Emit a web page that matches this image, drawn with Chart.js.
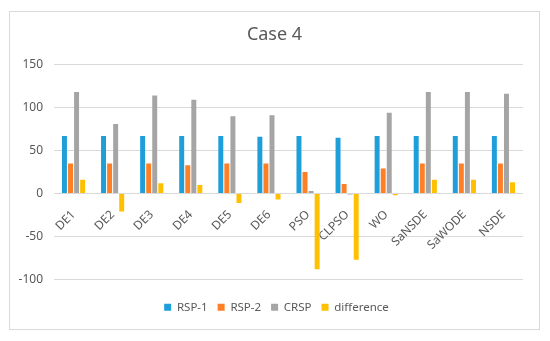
<!DOCTYPE html>
<html>
<head>
<meta charset="utf-8">
<script src="https://cdn.jsdelivr.net/npm/chart.js@4/dist/chart.umd.min.js"></script>
<style>
  html, body { margin: 0; padding: 0; background: #fff; }
  #marco {
    position: absolute; left: 9px; top: 11px;
    width: 529px; height: 317px;
    border: 1px solid #d9d9d9;
  }
</style>
</head>
<body>
<div id="marco"><canvas id="grafico" width="529" height="317"></canvas></div>
<script>
// Categorías y series
const categorias = ["DE1", "DE2", "DE3", "DE4", "DE5", "DE6", "PSO", "CLPSO", "WO", "SaNSDE", "SaWODE", "NSDE"];
const rsp1 = [67, 67, 67, 67, 67, 66, 67, 65, 67, 67, 67, 67];
const rsp2 = [35, 35, 35, 33, 35, 35, 25, 11, 29, 35, 35, 35];
const crsp = [118, 81, 114, 109, 90, 91, 3, -1, 94, 118, 118, 116];
const diferencia = [16, -21, 12, 10, -11, -7, -88, -77, -2, 16, 16, 13];

const nombres = ["RSP-1", "RSP-2", "CRSP", "difference"];
const colores = ["#1f9fda", "#ff7f27", "#a5a5a5", "#ffc000"];

const gris = "#595959";
const fuente = { family: "'Noto Sans', sans-serif", size: 12 };

const series = [rsp1, rsp2, crsp, diferencia];

// quita el relleno lateral que añaden las etiquetas giradas
function sinRelleno(s) {
  s.paddingLeft = 0;
  s.paddingRight = 0;
}

// mueve un poco el título y la leyenda hacia la derecha, como en el original
const moverBloques = {
  id: "moverBloques",
  afterLayout(chart) {
    const t = chart.titleBlock;
    if (t) { t.left += 8; t.right += 8; }
    const l = chart.legend;
    if (l) { l.left += 10; l.right += 10; }
  }
};

new Chart(document.getElementById("grafico").getContext("2d"), {
  type: "bar",
  data: {
    labels: categorias,
    datasets: series.map((s, i) => ({
      label: nombres[i],
      data: s,
      backgroundColor: colores[i],
      categoryPercentage: 0.62,
      barPercentage: 0.82
    }))
  },
  options: {
    responsive: false,
    animation: false,
    layout: { padding: { left: 0, right: 16, top: 4, bottom: 6 } },
    plugins: {
      title: {
        display: true,
        text: "Case 4",
        color: gris,
        font: { family: fuente.family, size: 18, weight: "normal" },
        padding: { top: 8, bottom: 19 }
      },
      legend: {
        position: "bottom",
        labels: {
          color: gris,
          font: { family: fuente.family, size: 11.5 },
          boxWidth: 7,
          boxHeight: 7,
          padding: 10
        }
      },
      tooltip: { enabled: false }
    },
    scales: {
      x: {
        position: { y: 0 },
        grid: { display: false },
        border: { display: false },
        ticks: {
          color: gris,
          font: fuente,
          padding: 6,
          maxRotation: 45,
          minRotation: 45,
          autoSkip: false
        },
        afterFit: sinRelleno
      },
      // eje vacío para dejar hueco entre el gráfico y la leyenda
      xHueco: {
        position: "bottom",
        grid: { display: false },
        border: { display: false },
        ticks: { display: false },
        afterFit(s) {
          s.height = 12;
          sinRelleno(s);
        }
      },
      y: {
        min: -100,
        max: 150,
        ticks: { stepSize: 50, color: gris, font: fuente, padding: 11 },
        grid: { color: "#d9d9d9", drawTicks: false },
        border: { display: false },
        afterFit(s) { s.width = 44; }
      }
    }
  },
  plugins: [moverBloques]
});
</script>
</body>
</html>
